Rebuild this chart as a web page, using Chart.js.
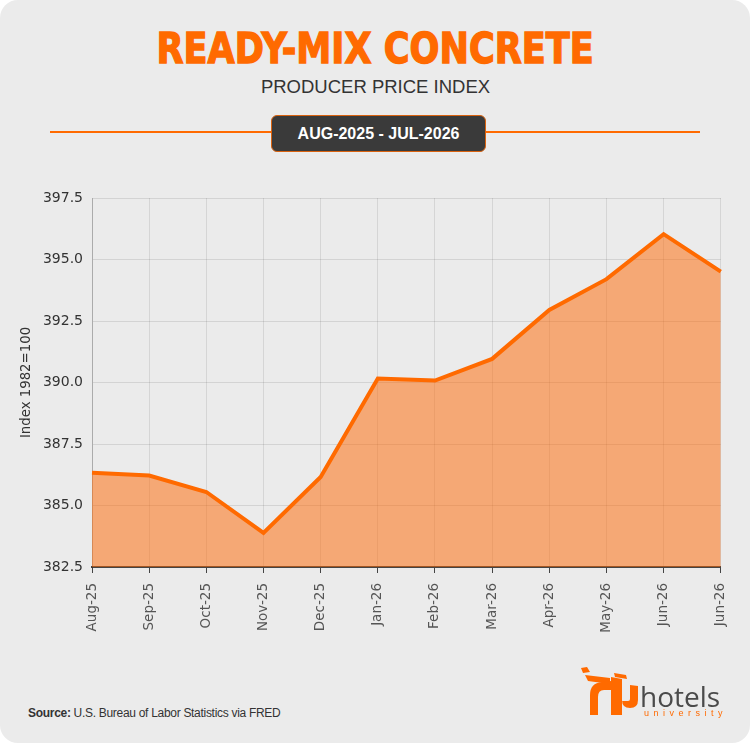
<!DOCTYPE html>
<html>
<head>
<meta charset="utf-8">
<script src="https://cdn.jsdelivr.net/npm/chart.js@4.4.1/dist/chart.umd.min.js"></script>
<style>
    html, body { margin: 0; padding: 0; background: #ffffff; }
    body { width: 751px; height: 746px; position: relative; overflow: hidden; font-family: "Liberation Sans", Arial, sans-serif; }
    .card { position: absolute; left: 0; top: 0; width: 750px; height: 743px; background: #ebebeb; border-radius: 18px; }
    .title { position: absolute; left: 0; width: 751px; top: 28px; text-align: center; }
    .title span { display: inline-block; font-family: "DejaVu Sans", sans-serif; font-weight: bold; font-size: 42px; line-height: 42px; color: #ff6a00; -webkit-text-stroke: 1.4px #ff6a00; transform-origin: center; }
    .subtitle { position: absolute; left: 0; width: 751px; top: 78px; text-align: center; font-size: 18.5px; line-height: 18.5px; color: #333; }
    .rule { position: absolute; left: 50px; top: 131px; width: 650px; height: 1.5px; background: #ff6a00; }
    .badge { position: absolute; left: 271px; top: 115px; width: 213px; height: 35px; background: #3a3a3a; border: 1px solid #d9620f; border-radius: 6px; display: flex; align-items: center; justify-content: center; color: #fff; font-weight: bold; font-size: 16px; }
    .chart-box { position: absolute; left: 10px; top: 180px; width: 737px; height: 460px; }
    .source { position: absolute; left: 28px; top: 707px; font-size: 12px; line-height: 12px; color: #333; letter-spacing: -0.3px; }
    .logo-text { position: absolute; left: 640px; top: 682px; font-family: "Open Sans", sans-serif; font-weight: 400; font-size: 28px; line-height: 28px; color: #4a4a4a; }
    .logo-sub { position: absolute; left: 644px; top: 709px; font-size: 9px; line-height: 9px; color: #ff6a00; letter-spacing: 4.5px; }
    .logo-icon { position: absolute; left: 0; top: 0; }
</style>
</head>
<body>
<div class="card"></div>
<div class="title"><span id="titleText">READY-MIX CONCRETE</span></div>
<div class="subtitle">PRODUCER PRICE INDEX</div>
<div class="rule"></div>
<div class="badge">AUG-2025 - JUL-2026</div>
<div class="chart-box"><canvas id="ppiChart"></canvas></div>
<div class="source"><b>Source:</b> U.S. Bureau of Labor Statistics via FRED</div>
<svg class="logo-icon" width="751" height="746">
    <polygon points="581,668 587,667 590,672 583,673" fill="#ff6a00"/>
    <polygon points="585,675 610,678 610,684 588,681" fill="#ff6a00"/>
    <path d="M590,715 V695 Q590,683 602,682 L611,681 V690 L604,690 Q598,690 598,697 V715 Z" fill="#ff6a00"/>
    <polygon points="611,677 622,679 622,715 611,715" fill="#ff6a00"/>
    <polygon points="614,673 626,675 627,679 615,677" fill="#ff6a00"/>
    <path d="M622,700 Q622,708 630,708 Q638,708 638,700 V686 L630,685 V699 Q630,701 628,701 H622 Z" fill="#ff6a00"/>
</svg>
<div class="logo-text">hotels</div>
<div class="logo-sub">university</div>

<script>
// data
const months = ["Aug-25", "Sep-25", "Oct-25", "Nov-25", "Dec-25", "Jan-26", "Feb-26", "Mar-26", "Apr-26", "May-26", "Jun-26", "Jun-26"];
const ppiValues = [386.33, 386.22, 385.55, 383.89, 386.16, 390.16, 390.08, 390.96, 392.95, 394.20, 396.03, 394.51];
const yMin = 382.5;
const yMax = 397.5;
const yStep = 2.5;

// squeeze title to the reference width
const t = document.getElementById("titleText");
t.style.transform = "scaleX(" + (437 / t.offsetWidth) + ")";

const ctx = document.getElementById("ppiChart").getContext("2d");
new Chart(ctx, {
    type: "line",
    data: {
        labels: months,
        datasets: [
            {
                label: "PPI",
                data: ppiValues,
                borderColor: "#ff6a00",
                backgroundColor: "rgba(255, 102, 0, 0.5)",
                borderWidth: 4,
                pointRadius: 0,
                tension: 0,
                fill: "start",
            },
        ],
    },
    options: {
        responsive: true,
        maintainAspectRatio: false,
        animation: false,
        layout: { padding: { top: 18, right: 14, left: 0, bottom: 0 } },
        plugins: {
            legend: { display: false },
            tooltip: { enabled: false },
        },
        scales: {
            x: {
                grid: {
                    color: "rgba(0, 0, 0, 0.09)",
                    tickColor: "#444",
                    tickLength: 6,
                    drawTicks: true,
                },
                border: { color: "#444", width: 2 },
                ticks: {
                    color: "#555",
                    font: { family: "DejaVu Sans", size: 13.5 },
                    maxRotation: 90,
                    minRotation: 90,
                    padding: 10,
                    autoSkip: false,
                },
                afterFit: (scale) => { scale.height = 73; },
            },
            y: {
                min: yMin,
                max: yMax,
                grid: { color: "rgba(0, 0, 0, 0.1)", drawTicks: false },
                border: { color: "rgba(0, 0, 0, 0.2)", width: 1 },
                ticks: {
                    stepSize: yStep,
                    color: "#333",
                    padding: 9,
                    font: { family: "DejaVu Sans", size: 14 },
                    callback: (v) => Number(v).toFixed(1),
                },
                title: {
                    display: true,
                    text: "Index 1982=100",
                    color: "#333",
                    font: { family: "DejaVu Sans", size: 13.3 },
                    padding: { top: 9, bottom: 0 },
                },
                afterFit: (scale) => { scale.width = 82; },
            },
        },
    },
});
</script>
</body>
</html>
